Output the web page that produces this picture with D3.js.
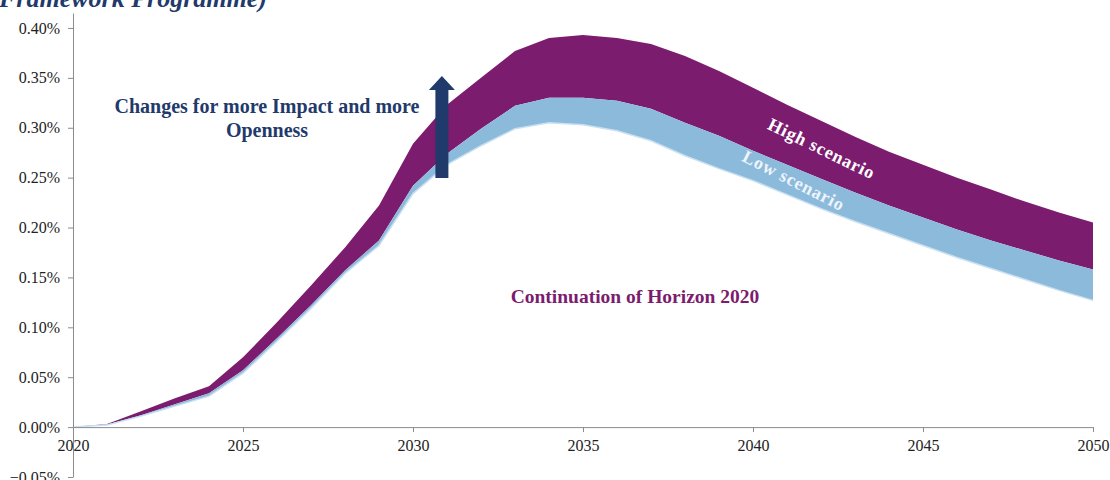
<!DOCTYPE html>
<html>
<head>
<meta charset="utf-8">
<script src="https://cdn.jsdelivr.net/npm/d3@7"></script>
<style>
    body{ margin:0; background:#FFF; }
    text{ font-family:"Liberation Serif", "Times New Roman", serif; }
</style>
</head>
<body>
<svg width="1110" height="480"></svg>
<script>
// years on the x axis
const years = [2020, 2021, 2022, 2023, 2024, 2025, 2026, 2027, 2028, 2029,
               2030, 2031, 2032, 2033, 2034, 2035, 2036, 2037, 2038, 2039,
               2040, 2041, 2042, 2043, 2044, 2045, 2046, 2047, 2048, 2049, 2050];

// values in %
const continuation = [0, 0.002, 0.011, 0.021, 0.031, 0.054, 0.086, 0.119, 0.154, 0.182,
                      0.234, 0.263, 0.282, 0.299, 0.305, 0.303, 0.297, 0.287, 0.272, 0.259,
                      0.247, 0.233, 0.219, 0.206, 0.194, 0.182, 0.170, 0.159, 0.148, 0.137, 0.127];
const lowScenario = [0, 0.0025, 0.012, 0.023, 0.034, 0.057, 0.089, 0.122, 0.157, 0.187,
                     0.242, 0.274, 0.299, 0.322, 0.330, 0.330, 0.327, 0.319, 0.305, 0.292,
                     0.277, 0.263, 0.249, 0.235, 0.222, 0.210, 0.198, 0.187, 0.177, 0.167, 0.158];
const highScenario = [0, 0.003, 0.016, 0.029, 0.041, 0.070, 0.105, 0.142, 0.180, 0.222,
                      0.284, 0.323, 0.350, 0.377, 0.390, 0.393, 0.390, 0.384, 0.372, 0.357,
                      0.340, 0.323, 0.307, 0.291, 0.276, 0.263, 0.250, 0.238, 0.226, 0.215, 0.205];

const yTicks = [-0.05, 0, 0.05, 0.10, 0.15, 0.20, 0.25, 0.30, 0.35, 0.40];
const xTicks = [2020, 2025, 2030, 2035, 2040, 2045, 2050];

const PURPLE = "#7B1C6E";
const LIGHTBLUE = "#8CBADB";
const NAVY = "#1F3A6B";
const AXIS = "#8C8C8C";

const svg = d3.select("svg");

const x = d3.scaleLinear().domain([2020, 2050]).range([73, 1093]);
const y = d3.scaleLinear().domain([-0.05, 0.415]).range([477, 13]);

const rows = years.map((yr, i) => ({
    year: yr,
    base: continuation[i],
    low: lowScenario[i],
    high: highScenario[i]
}));

function band(lo, hi){
    return d3.area()
        .x(d => x(d.year))
        .y0(d => y(d[lo]))
        .y1(d => y(d[hi]));
}

svg.append("path")
    .datum(rows)
    .attr("fill", PURPLE)
    .attr("d", band("low", "high"));

svg.append("path")
    .datum(rows)
    .attr("fill", LIGHTBLUE)
    .attr("d", band("base", "low"));

// faint edge below the blue band
svg.append("path")
    .datum(rows)
    .attr("fill", "none")
    .attr("stroke", "#C9E0F3")
    .attr("stroke-width", 1.5)
    .attr("d", d3.line().x(d => x(d.year)).y(d => y(d.base)));

// y axis
const yAxis = svg.append("g")
    .attr("transform", `translate(${x(2020)},0)`)
    .call(d3.axisLeft(y)
        .tickValues(yTicks)
        .tickSize(5)
        .tickSizeOuter(0)
        .tickFormat(d => d3.format(".2f")(d) + "%"));
yAxis.select(".domain").attr("stroke", AXIS);
yAxis.selectAll(".tick line").attr("stroke", AXIS);
yAxis.selectAll(".tick text")
    .attr("x", -13)
    .attr("fill", "#222")
    .style("font-size", "16px")
    .style("font-family", "'Liberation Serif', serif");

// x axis at zero
const xAxis = svg.append("g")
    .attr("transform", `translate(0,${y(0)})`)
    .call(d3.axisBottom(x)
        .tickValues(xTicks)
        .tickSize(5)
        .tickSizeOuter(0)
        .tickFormat(d3.format("d")));
xAxis.select(".domain").attr("stroke", AXIS);
xAxis.selectAll(".tick line").attr("stroke", AXIS);
xAxis.selectAll(".tick text")
    .attr("y", 13)
    .attr("fill", "#222")
    .style("font-size", "16px")
    .style("font-family", "'Liberation Serif', serif");

// cut-off title at the top
svg.append("text")
    .text("Framework Programme)")
    .attr("x", -1)
    .attr("y", 7)
    .attr("fill", NAVY)
    .style("font-size", "26px")
    .style("font-weight", "bold")
    .style("font-style", "italic");

// annotation with arrow
svg.append("text")
    .attr("x", 267)
    .attr("y", 113)
    .attr("text-anchor", "middle")
    .attr("fill", NAVY)
    .style("font-size", "20px")
    .style("font-weight", "bold")
    .text("Changes for more Impact and more")
  .append("tspan")
    .attr("x", 267)
    .attr("y", 137)
    .text("Openness");

const ax = x(2030.85);
const arrowPts = [[ax - 6.5, 178], [ax - 6.5, 90], [ax - 13, 90], [ax, 76],
                  [ax + 13, 90], [ax + 6.5, 90], [ax + 6.5, 178]];
svg.append("polygon")
    .attr("points", arrowPts.map(p => p.join(",")).join(" "))
    .attr("fill", NAVY);

svg.append("text")
    .text("Continuation of Horizon 2020")
    .attr("x", 635)
    .attr("y", 303)
    .attr("text-anchor", "middle")
    .attr("fill", PURPLE)
    .style("font-size", "19.5px")
    .style("font-weight", "bold");

svg.append("text")
    .text("High scenario")
    .attr("transform", "translate(819,154) rotate(26)")
    .attr("text-anchor", "middle")
    .attr("fill", "#FFFFFF")
    .style("font-size", "18px")
    .style("font-weight", "bold")
    .style("letter-spacing", "0.8px");

svg.append("text")
    .text("Low scenario")
    .attr("transform", "translate(791,186) rotate(27)")
    .attr("text-anchor", "middle")
    .attr("fill", "#EEF4FB")
    .style("font-size", "18px")
    .style("font-weight", "bold")
    .style("letter-spacing", "0.8px");
</script>
</body>
</html>
